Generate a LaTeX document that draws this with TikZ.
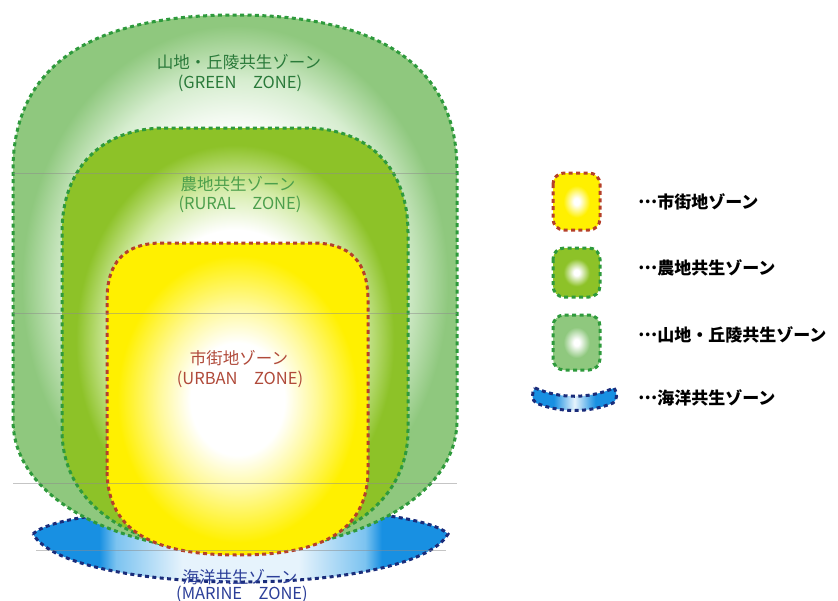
\documentclass[tikz,border=0pt]{standalone}
\usepackage{fontspec}
\newfontfamily\jp{Noto Sans CJK JP}
\definecolor{gzone}{HTML}{8FC87E}
\definecolor{gzonepale}{HTML}{D6EDCF}
\definecolor{rzone}{HTML}{8DC228}
\definecolor{rzonepale}{HTML}{D3EBA6}
\definecolor{uzone}{HTML}{FFF000}
\definecolor{uzonepale}{HTML}{FFF99A}
\definecolor{mblue}{HTML}{1890E2}
\definecolor{mlight}{HTML}{7CC3F0}
\definecolor{mwhite}{HTML}{E6F3FC}
\definecolor{gborder}{HTML}{2E9A3C}
\definecolor{uborder}{HTML}{B5402A}
\definecolor{mborder}{HTML}{1A2C7A}
\definecolor{gtext}{HTML}{2A7A3A}
\definecolor{rtext}{HTML}{4C9F4C}
\definecolor{utext}{HTML}{B04A3A}
\definecolor{mtext}{HTML}{2B3E98}
\pgfdeclareradialshading{greenshade}{\pgfpointorigin}{color(0bp)=(white); color(14bp)=(white); color(19bp)=(gzonepale); color(24bp)=(gzone); color(50bp)=(gzone)}
\pgfdeclareradialshading{ruralshade}{\pgfpointorigin}{color(0bp)=(white); color(13bp)=(white); color(18bp)=(rzonepale); color(23bp)=(rzone); color(50bp)=(rzone)}
\pgfdeclareradialshading{urbanshade}{\pgfpointorigin}{color(0bp)=(white); color(9bp)=(white); color(15bp)=(uzonepale); color(23bp)=(uzone); color(50bp)=(uzone)}
\pgfdeclareradialshading{iconG}{\pgfpointorigin}{color(0bp)=(white); color(3bp)=(white); color(14bp)=(gzone); color(50bp)=(gzone)}
\pgfdeclareradialshading{iconR}{\pgfpointorigin}{color(0bp)=(white); color(3bp)=(white); color(14bp)=(rzone); color(50bp)=(rzone)}
\pgfdeclareradialshading{iconU}{\pgfpointorigin}{color(0bp)=(white); color(3bp)=(white); color(14bp)=(uzone); color(50bp)=(uzone)}
\pgfdeclarehorizontalshading{marineshade}{100bp}{color(0bp)=(mblue); color(33bp)=(mblue); color(35bp)=(mlight); color(43bp)=(mwhite); color(57bp)=(mwhite); color(65bp)=(mlight); color(67bp)=(mblue); color(100bp)=(mblue)}
\pgfdeclarehorizontalshading{iconM}{100bp}{color(0bp)=(mblue); color(38bp)=(mblue); color(50bp)=(mwhite); color(62bp)=(mblue); color(100bp)=(mblue)}
\newcommand{\midell}{\raisebox{0.3em}{…}}
\tikzset{
  zdash/.style={line width=3pt, dash pattern=on 4pt off 3.4pt},
  lbl/.style={font=\jp\fontsize{16.5}{18}\selectfont, inner sep=0pt},
  leg/.style={font=\jp\bfseries\fontsize{17}{19}\selectfont, inner sep=0pt, anchor=west, text=black},
  scanline/.style={draw=black!45, line width=0.7pt, opacity=0.5}
}
\begin{document}
\begin{tikzpicture}[x=1pt,y=-1pt]
\useasboundingbox (0,0) rectangle (838,600);
% marine zone
\shadedraw[shading=marineshade, draw=mborder, zdash]
  (33,534) .. controls (70,498) and (411,498) .. (448,534)
  .. controls (411,598) and (70,598) .. (33,534) -- cycle;
% green zone
\shadedraw[shading=greenshade, draw=gborder, zdash]
  (13,420) -- (13,170) .. controls (13,60) and (100,15) .. (235,15)
  .. controls (370,15) and (457,60) .. (457,170) -- (457,420)
  .. controls (457,500) and (350,550) .. (235,552)
  .. controls (120,550) and (13,500) .. (13,420) -- cycle;
% rural zone
\shadedraw[shading=ruralshade, draw=gborder, zdash]
  (62,430) -- (62,232) .. controls (62,170) and (100,128) .. (165,128) -- (305,128)
  .. controls (370,128) and (408,170) .. (408,232) -- (408,430)
  .. controls (408,510) and (330,552) .. (235,552)
  .. controls (140,552) and (62,510) .. (62,430) -- cycle;
% urban zone
\shadedraw[shading=urbanshade, draw=uborder, zdash]
  (107,470) -- (107,300) .. controls (107,262) and (125,243) .. (162,243) -- (313,243)
  .. controls (350,243) and (368,262) .. (368,300) -- (368,470)
  .. controls (368,535) and (315,555) .. (238,555)
  .. controls (160,555) and (107,535) .. (107,470) -- cycle;
% faint scan lines
\draw[scanline] (13,173) -- (457,173);
\draw[scanline] (13,313) -- (457,313);
\draw[scanline] (13,483) -- (457,483);
\draw[scanline] (36,550) -- (446,550);
% labels
\node[lbl, text=gtext] (g1) at (239,62) {山地・丘陵共生ゾーン};
\node[lbl, text=gtext] (g2) at (240,83) {(GREEN　ZONE)};
\node[lbl, text=rtext] (r1) at (238,184) {農地共生ゾーン};
\node[lbl, text=rtext] (r2) at (240,204) {(RURAL　ZONE)};
\node[lbl, text=utext] (u1) at (239,358) {市街地ゾーン};
\node[lbl, text=utext] (u2) at (240,379) {(URBAN　ZONE)};
\node[lbl, text=mtext] (m1) at (240,577) {海洋共生ゾーン};
\node[lbl, text=mtext] (m2) at (242,594) {(MARINE　ZONE)};
% legend
\shadedraw[shading=iconU, draw=uborder, zdash, rounded corners=11pt] (553,173) rectangle (600,230);
\shadedraw[shading=iconR, draw=gborder, zdash, rounded corners=11pt] (553,248) rectangle (600,297);
\shadedraw[shading=iconG, draw=gborder, zdash, rounded corners=11pt] (553,315) rectangle (600,370);
\shadedraw[shading=iconM, draw=mborder, zdash]
  (535,388) .. controls (560,399) and (589,399) .. (614,388)
  .. controls (618,394) and (617,400) .. (613,403)
  .. controls (589,413) and (560,413) .. (536,403)
  .. controls (532,400) and (531,394) .. (535,388) -- cycle;
\node[leg] (lu) at (638,202) {\midell 市街地ゾーン};
\node[leg] (lr) at (638,268) {\midell 農地共生ゾーン};
\node[leg] (lg) at (638,335) {\midell 山地・丘陵共生ゾーン};
\node[leg] (lm) at (638,398) {\midell 海洋共生ゾーン};
\end{tikzpicture}
\end{document}
